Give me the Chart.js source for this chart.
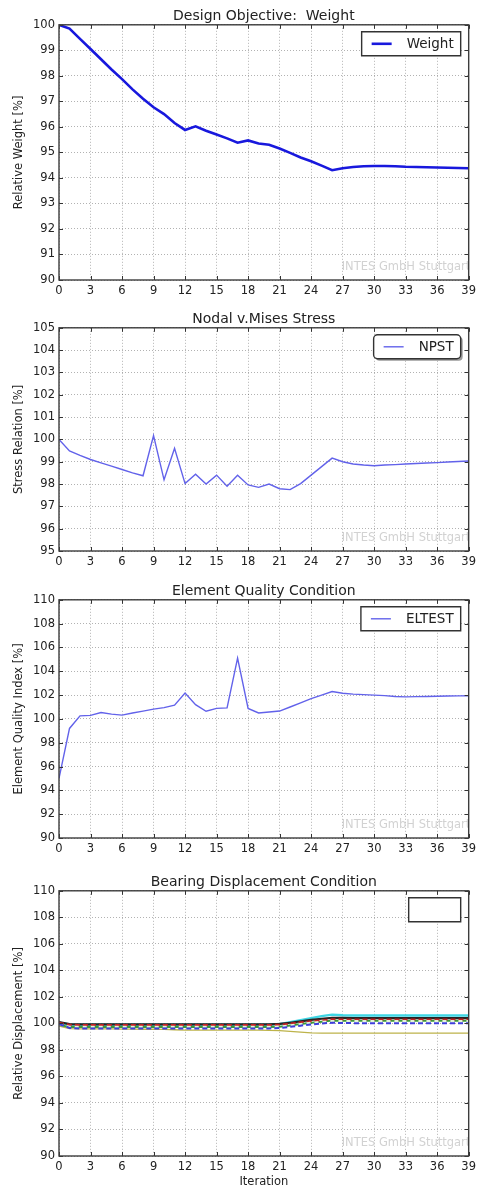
<!DOCTYPE html>
<html>
<head>
<meta charset="utf-8">
<script src="https://cdn.jsdelivr.net/npm/chart.js@4.4.1/dist/chart.umd.min.js"></script>
<style>
  html, body { margin: 0; padding: 0; background: #fff; }
  body { width: 480px; height: 1189px; position: relative; overflow: hidden; }
  canvas { position: absolute; left: 0; }
</style>
</head>
<body>
<canvas id="weightChart" width="480" height="296" style="top:4px"></canvas>
<canvas id="stressChart" width="480" height="264" style="top:307px"></canvas>
<canvas id="qualityChart" width="480" height="279" style="top:579px"></canvas>
<canvas id="bearingChart" width="480" height="319" style="top:870px"></canvas>
<script>
const FONT = '"DejaVu Sans", sans-serif';

// x axis: optimisation iterations
const iterations = [0, 1, 2, 3, 4, 5, 6, 7, 8, 9, 10, 11, 12, 13, 14, 15, 16, 17, 18, 19,
                    20, 21, 22, 23, 24, 25, 26, 27, 28, 29, 30, 31, 32, 33, 34, 35, 36, 37, 38, 39];
const xTicks = [0, 3, 6, 9, 12, 15, 18, 21, 24, 27, 30, 33, 36, 39];

// y tick labels per panel
const weightTicks = [90, 91, 92, 93, 94, 95, 96, 97, 98, 99, 100];
const stressTicks = [95, 96, 97, 98, 99, 100, 101, 102, 103, 104, 105];
const qualityTicks = [90, 92, 94, 96, 98, 100, 102, 104, 106, 108, 110];
const bearingTicks = [90, 92, 94, 96, 98, 100, 102, 104, 106, 108, 110];

// series
const weight = [100.00, 99.85, 99.45, 99.05, 98.65, 98.25, 97.87, 97.47, 97.10, 96.77,
                96.50, 96.15, 95.88, 96.02, 95.85, 95.70, 95.55, 95.38, 95.47, 95.35,
                95.30, 95.15, 94.98, 94.80, 94.65, 94.48, 94.30, 94.38, 94.43, 94.46,
                94.47, 94.47, 94.46, 94.44, 94.43, 94.42, 94.41, 94.40, 94.39, 94.38];

const npst = [100.00, 99.48, 99.28, 99.10, 98.95, 98.80, 98.65, 98.50, 98.37, 100.17,
              98.19, 99.60, 98.02, 98.44, 98.00, 98.40, 97.90, 98.39, 97.96, 97.85,
              98.00, 97.79, 97.75, 98.02, 98.40, 98.78, 99.16, 99.00, 98.90, 98.85,
              98.82, 98.85, 98.87, 98.90, 98.92, 98.94, 98.96, 98.99, 99.01, 99.03];

const eltest = [95.00, 99.20, 100.25, 100.30, 100.54, 100.40, 100.32, 100.50, 100.65, 100.82,
                100.95, 101.15, 102.17, 101.20, 100.64, 100.88, 100.92, 105.10, 100.88, 100.50,
                100.58, 100.66, 101.00, 101.35, 101.70, 102.00, 102.30, 102.15, 102.08, 102.04,
                102.00, 101.95, 101.88, 101.85, 101.87, 101.88, 101.90, 101.92, 101.93, 101.95];

const bearingK = [100.10, 99.95, 99.92, 99.92, 99.92, 99.92, 99.92, 99.92, 99.92, 99.92,
                  99.92, 99.92, 99.92, 99.92, 99.92, 99.92, 99.92, 99.92, 99.92, 99.93,
                  99.93, 99.96, 100.05, 100.15, 100.26, 100.35, 100.42, 100.41, 100.40, 100.40,
                  100.40, 100.40, 100.40, 100.40, 100.40, 100.40, 100.40, 100.40, 100.40, 100.40];
const bearingC = [100.05, 99.92, 99.90, 99.90, 99.90, 99.90, 99.90, 99.90, 99.90, 99.90,
                  99.90, 99.90, 99.90, 99.90, 99.90, 99.90, 99.90, 99.90, 99.90, 99.90,
                  99.90, 99.95, 100.10, 100.25, 100.40, 100.55, 100.66, 100.62, 100.60, 100.60,
                  100.60, 100.60, 100.60, 100.60, 100.60, 100.60, 100.60, 100.60, 100.60, 100.60];
const bearingR = [100.05, 99.90, 99.88, 99.88, 99.88, 99.88, 99.88, 99.88, 99.88, 99.88,
                  99.88, 99.88, 99.88, 99.88, 99.88, 99.88, 99.88, 99.88, 99.88, 99.88,
                  99.88, 99.90, 99.98, 100.08, 100.16, 100.24, 100.31, 100.30, 100.30, 100.30,
                  100.30, 100.30, 100.30, 100.30, 100.30, 100.30, 100.30, 100.30, 100.30, 100.30];
const bearingG = [99.90, 99.72, 99.72, 99.72, 99.72, 99.72, 99.72, 99.72, 99.72, 99.72,
                  99.72, 99.72, 99.72, 99.72, 99.72, 99.72, 99.72, 99.72, 99.72, 99.72,
                  99.72, 99.75, 99.85, 99.95, 100.05, 100.13, 100.21, 100.20, 100.20, 100.20,
                  100.20, 100.20, 100.20, 100.20, 100.20, 100.20, 100.20, 100.20, 100.20, 100.20];
const bearingW = [99.92, 99.74, 99.74, 99.74, 99.74, 99.74, 99.74, 99.74, 99.74, 99.74,
                  99.74, 99.74, 99.74, 99.74, 99.74, 99.74, 99.74, 99.74, 99.74, 99.74,
                  99.74, 99.76, 99.86, 99.96, 100.05, 100.12, 100.19, 100.18, 100.18, 100.18,
                  100.18, 100.18, 100.18, 100.18, 100.18, 100.18, 100.18, 100.18, 100.18, 100.18];
const bearingB = [99.95, 99.66, 99.62, 99.62, 99.62, 99.62, 99.62, 99.62, 99.62, 99.62,
                  99.62, 99.62, 99.62, 99.62, 99.62, 99.62, 99.62, 99.62, 99.62, 99.62,
                  99.62, 99.65, 99.74, 99.83, 99.92, 99.99, 100.05, 100.03, 100.02, 100.02,
                  100.02, 100.02, 100.02, 100.02, 100.02, 100.02, 100.02, 100.02, 100.02, 100.02];
const bearingY = [99.80, 99.60, 99.58, 99.58, 99.58, 99.58, 99.57, 99.57, 99.56, 99.56,
                  99.55, 99.52, 99.50, 99.50, 99.50, 99.50, 99.50, 99.50, 99.50, 99.50,
                  99.48, 99.45, 99.40, 99.34, 99.28, 99.27, 99.27, 99.27, 99.27, 99.27,
                  99.27, 99.27, 99.27, 99.27, 99.27, 99.27, 99.27, 99.27, 99.27, 99.27];

// light grey company stamp in the lower right corner of each plot
const watermark = {
    id: 'watermark',
    beforeDatasetsDraw(chart) {
        const { ctx, chartArea: a } = chart;
        ctx.save();
        ctx.beginPath();
        ctx.rect(a.left, a.top, a.width, a.height);
        ctx.clip();
        ctx.font = '11.5px ' + FONT;
        ctx.fillStyle = '#d2d2d2';
        ctx.textBaseline = 'middle';
        ctx.fillText('INTES GmbH Stuttgart', a.right - 127, a.bottom - 13);
        ctx.restore();
    }
};

// black frame with inward tick marks (matplotlib classic look)
const frame = {
    id: 'frame',
    afterDatasetsDraw(chart) {
        const { ctx, chartArea: a, scales } = chart;
        ctx.save();
        ctx.strokeStyle = '#333';
        ctx.lineWidth = 1;
        ctx.beginPath();
        scales.x.ticks.forEach(t => {
            const px = Math.round(scales.x.getPixelForValue(t.value)) + 0.5;
            ctx.moveTo(px, a.bottom); ctx.lineTo(px, a.bottom - 4);
            ctx.moveTo(px, a.top); ctx.lineTo(px, a.top + 4);
        });
        scales.y.ticks.forEach(t => {
            const py = Math.round(scales.y.getPixelForValue(t.value)) + 0.5;
            ctx.moveTo(a.left, py); ctx.lineTo(a.left + 4, py);
            ctx.moveTo(a.right, py); ctx.lineTo(a.right - 4, py);
        });
        ctx.stroke();
        ctx.lineWidth = 1.4;
        ctx.strokeStyle = '#3c3c3c';
        ctx.strokeRect(a.left, a.top, a.width, a.height);
        ctx.restore();
    }
};

// boxed legend in the upper right corner
const legendBox = {
    id: 'legendBox',
    afterDraw(chart, args, opts) {
        const { ctx, chartArea: a } = chart;
        const ds = chart.data.datasets[0];
        const label = opts.empty ? '' : ds.label;
        ctx.save();
        ctx.font = '13.5px ' + FONT;
        const w = label ? ctx.measureText(label).width + 52 : 52;
        const h = 24;
        const x = a.right - 8 - w;
        const y = a.top + 7;
        const r = opts.rounded ? 4 : 0;
        const path = (px, py) => {
            ctx.beginPath();
            ctx.moveTo(px + r, py);
            ctx.lineTo(px + w - r, py);
            ctx.arcTo(px + w, py, px + w, py + r, r);
            ctx.lineTo(px + w, py + h - r);
            ctx.arcTo(px + w, py + h, px + w - r, py + h, r);
            ctx.lineTo(px + r, py + h);
            ctx.arcTo(px, py + h, px, py + h - r, r);
            ctx.lineTo(px, py + r);
            ctx.arcTo(px, py, px + r, py, r);
            ctx.closePath();
        };
        if (opts.shadow) {
            path(x + 2, y + 2);
            ctx.fillStyle = '#9a9a9a';
            ctx.fill();
        }
        path(x, y);
        ctx.fillStyle = '#fff';
        ctx.fill();
        ctx.strokeStyle = '#333';
        ctx.lineWidth = 1.4;
        ctx.stroke();
        if (label) {
            ctx.beginPath();
            ctx.strokeStyle = ds.borderColor;
            ctx.lineWidth = ds.borderWidth;
            ctx.moveTo(x + 10, y + h / 2);
            ctx.lineTo(x + 30, y + h / 2);
            ctx.stroke();
            ctx.fillStyle = '#222';
            ctx.textBaseline = 'middle';
            ctx.fillText(label, x + 45, y + h / 2 + 1);
        }
        ctx.restore();
    }
};

function buildChart(id, cfg) {
    return new Chart(document.getElementById(id), {
        type: 'line',
        data: { labels: iterations, datasets: cfg.datasets },
        options: {
            responsive: false,
            animation: false,
            layout: { padding: { right: 9 } },
            elements: { point: { radius: 0 }, line: { tension: 0 } },
            plugins: {
                legend: { display: false },
                tooltip: { enabled: false },
                title: {
                    display: true,
                    text: cfg.title,
                    fullSize: false,
                    color: '#222',
                    font: { family: FONT, size: 14, weight: 'normal' },
                    padding: { top: 4, bottom: 0 }
                },
                legendBox: cfg.legend
            },
            scales: {
                x: {
                    type: 'linear',
                    min: 0,
                    max: 39,
                    afterBuildTicks: s => { s.ticks = xTicks.map(v => ({ value: v })); },
                    afterFit: s => { s.height = cfg.xHeight || 20; },
                    ticks: { color: '#222', font: { family: FONT, size: 11.5 }, padding: 4, maxRotation: 0, autoSkip: false },
                    grid: { color: 'rgba(0,0,0,0.38)', lineWidth: 0.8, drawTicks: false },
                    border: { display: false, dash: [1, 2] },
                    title: {
                        display: !!cfg.xTitle,
                        text: cfg.xTitle || '',
                        color: '#222',
                        font: { family: FONT, size: 11.5 },
                        padding: { top: 0, bottom: 0 }
                    }
                },
                y: {
                    min: cfg.yTicks[0],
                    max: cfg.yTicks[cfg.yTicks.length - 1],
                    afterBuildTicks: s => { s.ticks = cfg.yTicks.map(v => ({ value: v })); },
                    afterFit: s => { s.width = 59; },
                    ticks: { color: '#222', font: { family: FONT, size: 11.5 }, padding: 4 },
                    grid: { color: 'rgba(0,0,0,0.38)', lineWidth: 0.8, drawTicks: false },
                    border: { display: false, dash: [1, 2] },
                    title: {
                        display: true,
                        text: cfg.yTitle,
                        color: '#222',
                        font: { family: FONT, size: 11.5 },
                        padding: { top: 12, bottom: 0 }
                    }
                }
            }
        },
        plugins: [watermark, frame, legendBox]
    });
}

buildChart('weightChart', {
    title: 'Design Objective:  Weight',
    yTitle: 'Relative Weight [%]',
    yTicks: weightTicks,
    legend: { rounded: false, shadow: false },
    datasets: [{ label: 'Weight', data: weight, borderColor: '#1818dd', borderWidth: 2.6 }]
});

buildChart('stressChart', {
    title: 'Nodal v.Mises Stress',
    yTitle: 'Stress Relation [%]',
    yTicks: stressTicks,
    legend: { rounded: true, shadow: true },
    datasets: [{ label: 'NPST', data: npst, borderColor: '#6262ea', borderWidth: 1.4 }]
});

buildChart('qualityChart', {
    title: 'Element Quality Condition',
    yTitle: 'Element Quality Index [%]',
    yTicks: qualityTicks,
    legend: { rounded: false, shadow: false },
    datasets: [{ label: 'ELTEST', data: eltest, borderColor: '#6262ea', borderWidth: 1.4 }]
});

buildChart('bearingChart', {
    title: 'Bearing Displacement Condition',
    yTitle: 'Relative Displacement [%]',
    xTitle: 'Iteration',
    xHeight: 33,
    yTicks: bearingTicks,
    legend: { rounded: false, shadow: false, empty: true },
    datasets: [
        { label: '', data: bearingB, borderColor: '#3d3ddc', borderWidth: 2, borderDash: [5, 3] },
        { label: '', data: bearingW, borderColor: '#e4f4da', borderWidth: 2, borderDash: [4, 4] },
        { label: '', data: bearingR, borderColor: '#c42222', borderWidth: 2, borderDash: [5, 3] },
        { label: '', data: bearingK, borderColor: '#252525', borderWidth: 2.2 },
        { label: '', data: bearingG, borderColor: '#3a9a3a', borderWidth: 2 },
        { label: '', data: bearingY, borderColor: '#bdb34a', borderWidth: 1.3 },
        { label: '', data: bearingC, borderColor: '#3fd6e4', borderWidth: 2.4 }
    ]
});
</script>
</body>
</html>
